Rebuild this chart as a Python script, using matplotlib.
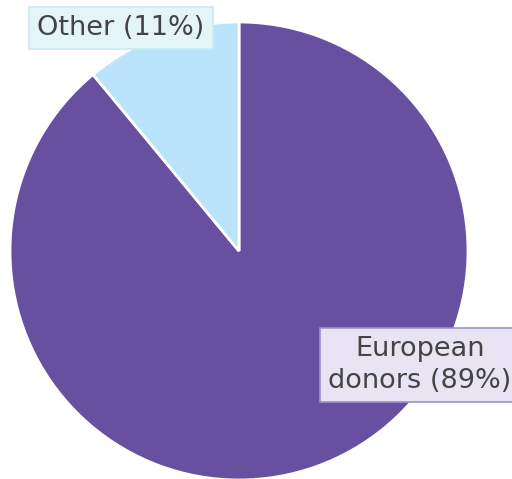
import matplotlib.pyplot as plt

labels = ["European\ndonors (89%)", "Other (11%)"]
shares = [89, 11]
colors = ["#6750A0", "#BAE4FC"]

W, H = 512, 479
cx, cy, r = 239, 251, 229

fig = plt.figure(figsize=(W / 100, H / 100), dpi=100)
ax = fig.add_axes([0, 0, 1, 1])
ax.pie(shares, colors=colors, startangle=90, counterclock=False,
       wedgeprops=dict(edgecolor="white", linewidth=2))


def to_data(px, py):
    return (px - cx) / r, (cy - py) / r


box_styles = [
    dict(boxstyle="square,pad=0.3", fc="#E8E4F4", ec="#9E90CC", lw=1.2),
    dict(boxstyle="square,pad=0.3", fc="#E3F5F7", ec="#C8ECF0", lw=1.2),
]
label_pos = [(420, 365), (121, 28)]
for lab, pos, bs in zip(labels, label_pos, box_styles):
    x, y = to_data(*pos)
    ax.text(x, y, lab, ha="center", va="center", fontsize=19.5,
            color="#444444", bbox=bs, linespacing=1.25)

ax.set_xlim(-cx / r, (W - cx) / r)
ax.set_ylim(-(H - cy) / r, cy / r)
ax.set_aspect("auto")
ax.axis("off")

fig.savefig("out.png", dpi=100)
